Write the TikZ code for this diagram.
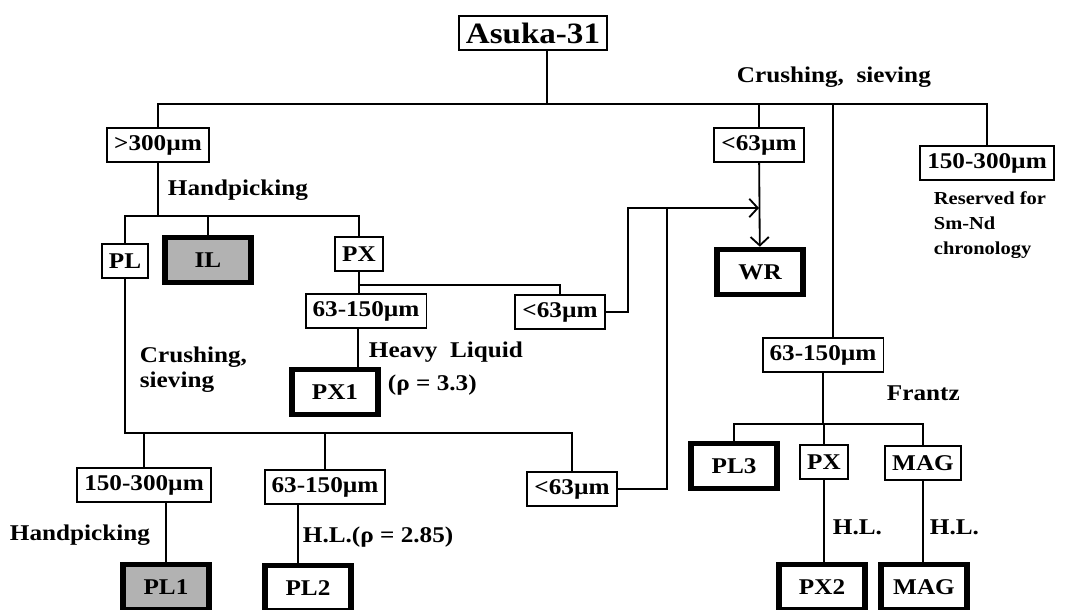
\documentclass[tikz,border=0pt]{standalone}
\usepackage{fontspec}
\setmainfont{Liberation Serif}[FakeStretch=1.12]
\usetikzlibrary{arrows.meta}

\begin{document}
\begin{tikzpicture}[x=0.025cm, y=-0.025cm, line width=1.3pt,
    >={Straight Barb[length=6pt,width=13pt]},
    every node/.style={font=\bfseries\fontsize{16}{18}\selectfont},
    box/.style={draw, line width=1.4pt, inner xsep=5pt, minimum height=24pt},
    res/.style={draw, line width=4pt, minimum width=61pt, minimum height=32pt},
    grey/.style={res, fill=black!30},
    lbl/.style={anchor=west, inner sep=0pt}]
    \useasboundingbox (0,0) rectangle (1087,610);

    % sample and first sieving
    \node[box, font=\bfseries\fontsize{21}{22}\selectfont] (asuka) at (533,33) {Asuka-31};
    \node[lbl] (crush) at (736,77) {Crushing,\ \ sieving};
    \node[box] (g300) at (158,145) {>300µm};
    \node[box] (f63a) at (759,145) {<63µm};
    \node[box] (r150) at (987,163) {150-300µm};
    \node[lbl, align=left, font=\bfseries\fontsize{13}{17.8}\selectfont] (resv) at (933,225)
        {Reserved for\\Sm-Nd\\chronology};
    \node[res] (wr) at (760,272) {WR};

    % coarse fraction
    \node[lbl] (hand1) at (167,190) {Handpicking};
    \node[box] (pl) at (125,261) {PL};
    \node[grey] (il) at (208,260) {IL};
    \node[box] (px) at (359,254) {PX};
    \node[box] (p63) at (366,311) {63-150µm};
    \node[box] (p63s) at (560,312) {<63µm};
    \node[lbl] (heavy) at (368,352) {Heavy\ \ Liquid};
    \node[lbl] (rho1) at (387,385) {(ρ = 3.3)};
    \node[res] (px1) at (335,392) {PX1};

    \node[lbl, align=left, font=\bfseries\fontsize{16}{17.8}\selectfont] (crush2) at (139,370)
        {Crushing,\\sieving};
    \node[box] (l150) at (144,485) {150-300µm};
    \node[box] (l63) at (325,487) {63-150µm};
    \node[box] (l63s) at (572,489) {<63µm};
    \node[lbl] (hand2) at (9,535) {Handpicking};
    \node[lbl] (hl1) at (302,537) {H.L.(ρ = 2.85)};
    \node[grey] (pl1) at (166,587) {PL1};
    \node[res] (pl2) at (308,588) {PL2};

    % fine fraction
    \node[box] (r63) at (823,355) {63-150µm};
    \node[lbl] (frantz) at (886,393) {Frantz};
    \node[res] (pl3) at (734,466) {PL3};
    \node[box] (rpx) at (824,462) {PX};
    \node[box] (mag) at (923,463) {MAG};
    \node[lbl] (hl2) at (832,527) {H.L.};
    \node[lbl] (hl3) at (929,527) {H.L.};
    \node[res] (px2) at (822,587) {PX2};
    \node[res] (mag2) at (924,587) {MAG};

    \coordinate (b1) at (547,104);
    \coordinate (b2) at (833,104);
    \coordinate (b3) at (156,216);
    \coordinate (b4) at (360,285);
    \coordinate (b5) at (122,433);
    \coordinate (b6) at (824,424);
    \coordinate (j1) at (628,208);
    \coordinate (j2) at (667,208);
    \coordinate (c1) at (358,0);
    \coordinate (c2) at (298,0);

    \draw (b1 |- asuka.south) -- (b1);
    \draw (g300.north) -- (g300.north |- b1) -| (r150.north);
    \draw (f63a.north |- b1) -- (f63a.north);
    \draw (b2) -- (b2 |- r63.north);
    \draw[->] (f63a) -- (wr);

    \draw (g300) -- (g300 |- b3);
    \draw (pl.north) |- (px.north |- b3) -- (px.north);
    \draw (il.north) -- (il.north |- b3);
    \draw (px.south) -- (px.south |- p63.north);
    \draw (px.south |- b4) -| (p63s.north);
    \draw (c1 |- p63.south) -- (c1 |- px1.north);
    \draw[->] (p63s.east) -| (j1) -- (f63a |- j1);
    \draw (l63s.east) -| (j2);

    \draw (pl.south) -- (pl.south |- b5) -| (l63s.north);
    \draw (l150.north) -- (l150.north |- b5);
    \draw (l63.north) -- (l63.north |- b5);
    \draw (pl1.north) -- (pl1.north |- l150.south);
    \draw (c2 |- l63.south) -- (c2 |- pl2.north);

    \draw (r63) -- (r63 |- b6);
    \draw (pl3.north) |- (mag.north |- b6) -- (mag.north);
    \draw (rpx.north) -- (rpx.north |- b6);
    \draw (rpx.south) -- (rpx.south |- px2.north);
    \draw (mag.south) -- (mag.south |- mag2.north);
\end{tikzpicture}
\end{document}
